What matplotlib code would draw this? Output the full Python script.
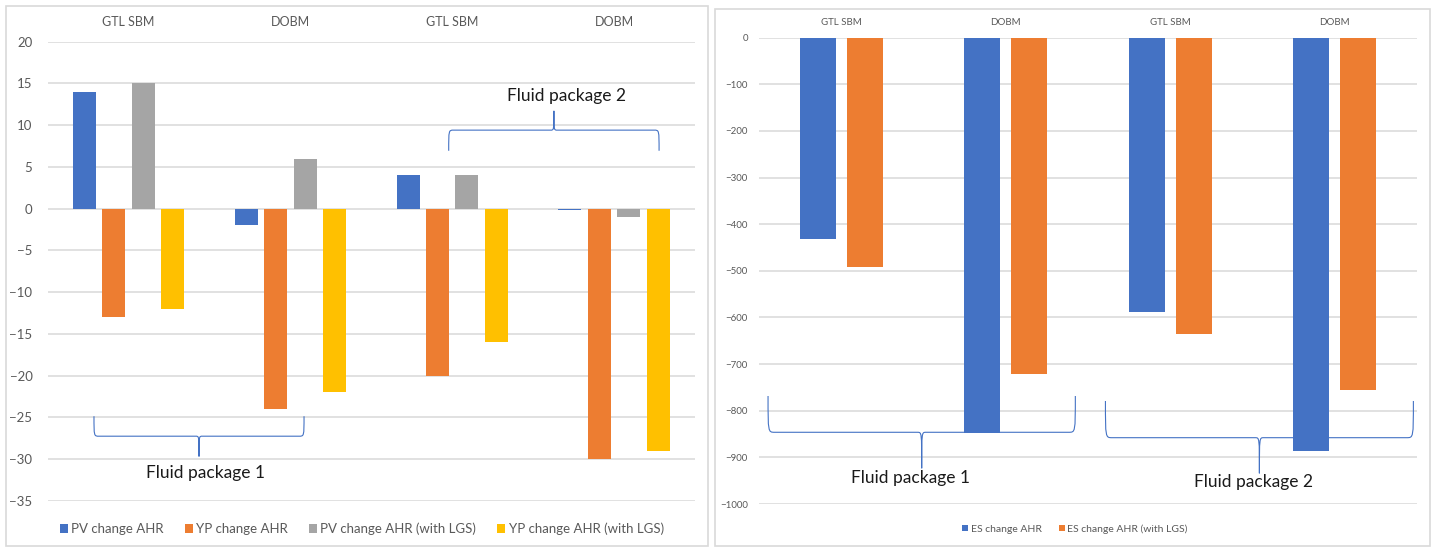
import matplotlib
matplotlib.use("Agg")
import matplotlib.pyplot as plt
import numpy as np
from matplotlib.path import Path
from matplotlib.patches import PathPatch, Rectangle

plt.rcParams['font.family'] = ['Lato', 'DejaVu Sans']

# Rheology changes (left chart)
categories = ["GTL SBM", "DOBM", "GTL SBM", "DOBM"]
rheology_labels = ["PV change AHR", "YP change AHR",
                   "PV change AHR (with LGS)", "YP change AHR (with LGS)"]
pv_change = [14, -2, 4, -0.2]
yp_change = [-13, -24, -20, -30]
pv_change_lgs = [15, 6, 4, -1]
yp_change_lgs = [-12, -22, -16, -29]

# Electrical stability changes (right chart)
es_labels = ["ES change AHR", "ES change AHR (with LGS)"]
es_change = [-432, -847, -588, -887]
es_change_lgs = [-492, -722, -635, -756]

left_ticks = [20, 15, 10, 5, 0, -5, -10, -15, -20, -25, -30, -35]
right_ticks = [0, -100, -200, -300, -400, -500, -600, -700, -800, -900, -1000]

blue, orange, gray, gold = "#4472C4", "#ED7D31", "#A5A5A5", "#FFC000"
grid_c = "#D9D9D9"
text_c = "#595959"

W, H = 1438, 547
fig = plt.figure(figsize=(W / 100, H / 100), dpi=100)


def px_box(x0, y0, x1, y1):
    return [x0 / W, 1 - y1 / H, (x1 - x0) / W, (y1 - y0) / H]


# panel frames
for x0, y0, x1, y1 in [(5.7, 6, 708, 546), (714.5, 9, 1430, 546)]:
    fig.patches.append(Rectangle((x0 / W, 1 - y1 / H), (x1 - x0) / W, (y1 - y0) / H,
                                 transform=fig.transFigure, fill=False,
                                 edgecolor=grid_c, linewidth=1.2))


def brace(ax, x0, x1, y_end, y_line, y_tip, rx, rt):
    xm = (x0 + x1) / 2
    verts = [(x0, y_end), (x0, y_line), (x0, y_line), (x0 + rx, y_line),
             (xm - rt, y_line),
             (xm, y_line), (xm, y_line), (xm, y_tip),
             (xm, y_line), (xm, y_line), (xm + rt, y_line),
             (x1 - rx, y_line),
             (x1, y_line), (x1, y_line), (x1, y_end)]
    codes = [Path.MOVETO, Path.CURVE4, Path.CURVE4, Path.CURVE4,
             Path.LINETO,
             Path.CURVE4, Path.CURVE4, Path.CURVE4,
             Path.CURVE4, Path.CURVE4, Path.CURVE4,
             Path.LINETO,
             Path.CURVE4, Path.CURVE4, Path.CURVE4]
    ax.add_patch(PathPatch(Path(verts, codes), fill=False, edgecolor=blue,
                           linewidth=0.8, clip_on=False, zorder=5))


def style_axis(ax, ticks, tick_size, cat_size, pad_y, pad_x):
    ax.set_yticks(ticks)
    ax.yaxis.grid(True, color=grid_c, linewidth=1.1)
    ax.set_axisbelow(True)
    ax.set_xticks(range(len(categories)))
    ax.set_xticklabels(categories)
    ax.xaxis.tick_top()
    ax.tick_params(axis="both", length=0, colors=text_c)
    ax.tick_params(axis="y", labelsize=tick_size, pad=pad_y)
    ax.tick_params(axis="x", labelsize=cat_size, pad=pad_x)
    for s in ax.spines.values():
        s.set_visible(False)
    ax.set_xlim(-0.5, len(categories) - 0.5)


x = np.arange(len(categories))

# left chart
ax1 = fig.add_axes(px_box(47.7, 41.7, 695, 501))
w1, step1 = 0.142, 0.182
series1 = [pv_change, yp_change, pv_change_lgs, yp_change_lgs]
colors1 = [blue, orange, gray, gold]
for i, (vals, c, lab) in enumerate(zip(series1, colors1, rheology_labels)):
    ax1.bar(x + (i - 1.5) * step1, vals, width=w1, color=c, label=lab, zorder=2)
ax1.set_ylim(-35, 20)
style_axis(ax1, left_ticks, 9.5, 9, 11, 10)

brace(ax1, -0.214, 1.084, -24.85, -27.24, -29.67, 0.03, 0.02)
ax1.text(0.478, -31.6, "Fluid package 1", ha="center", va="center",
         fontsize=12.5, color="#1a1a1a")
brace(ax1, 1.978, 3.278, 6.94, 9.41, 11.72, 0.03, 0.02)
ax1.text(2.709, 13.5, "Fluid package 2", ha="center", va="center",
         fontsize=12.5, color="#1a1a1a")

leg1 = fig.legend(*ax1.get_legend_handles_labels(), loc="center",
                  bbox_to_anchor=(362 / W, 1 - 529 / H), ncol=4, frameon=False,
                  fontsize=9.5, handlelength=0.6, handleheight=0.6,
                  handletextpad=0.25, columnspacing=1.6, labelcolor=text_c)

# right chart
ax2 = fig.add_axes(px_box(759, 37.7, 1417, 504))
w2, step2 = 0.219, 0.286
for i, (vals, c, lab) in enumerate(zip([es_change, es_change_lgs], [blue, orange], es_labels)):
    ax2.bar(x + (i - 0.5) * step2, vals, width=w2, color=c, label=lab, zorder=2)
ax2.set_ylim(-1000, 0)
style_axis(ax2, right_ticks, 7, 7, 8, 8)

brace(ax2, -0.445, 1.423, -768.4, -846.2, -923.4, 0.04, 0.025)
ax2.text(0.424, -944.9, "Fluid package 1", ha="center", va="center",
         fontsize=12.5, color="#1a1a1a")
brace(ax2, 1.606, 3.478, -779.1, -857.8, -934.2, 0.04, 0.025)
ax2.text(2.509, -952.2, "Fluid package 2", ha="center", va="center",
         fontsize=12.5, color="#1a1a1a")

leg2 = fig.legend(*ax2.get_legend_handles_labels(), loc="center",
                  bbox_to_anchor=(1075 / W, 1 - 529 / H), ncol=2, frameon=False,
                  fontsize=7.5, handlelength=0.6, handleheight=0.6,
                  handletextpad=0.25, columnspacing=1.6, labelcolor=text_c)

fig.savefig("out.png", dpi=100)
